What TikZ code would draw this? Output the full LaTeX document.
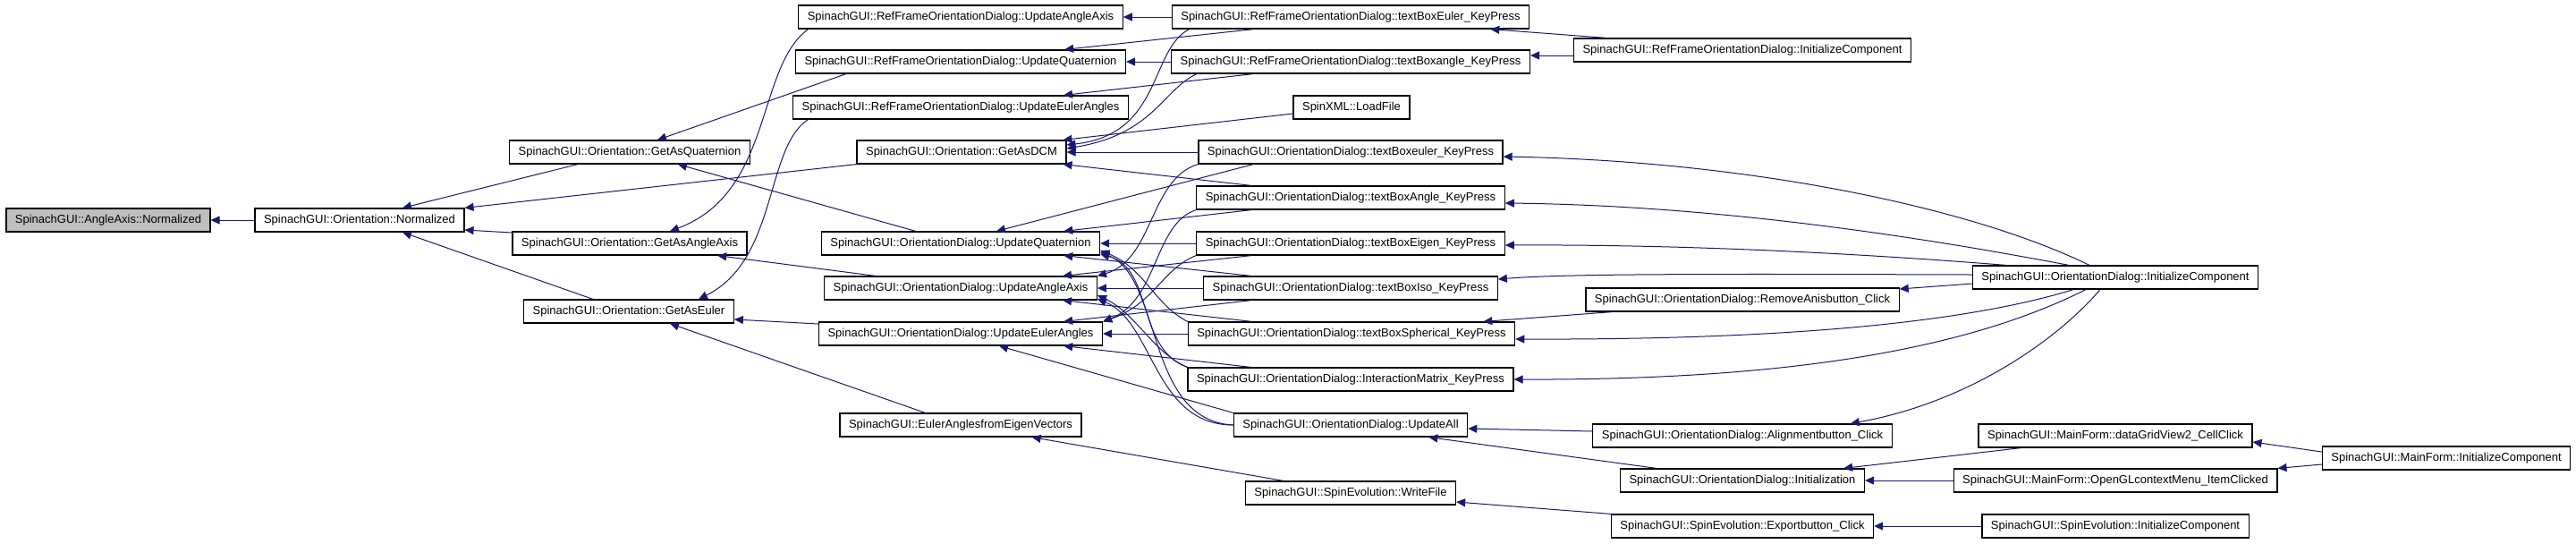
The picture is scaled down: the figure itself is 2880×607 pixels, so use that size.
\documentclass[tikz,border=0pt]{standalone}
\usepackage{fontspec}
\setmainfont{Liberation Sans}
\usetikzlibrary{arrows.meta}
\definecolor{callblue}{HTML}{191970}
\definecolor{rootgray}{HTML}{BFBFBF}

\begin{document}
\begin{tikzpicture}[x=0.5pt,y=-0.5pt,
  fn/.style={draw=black,line width=0.6pt,fill=white,inner xsep=5pt,inner ysep=0pt,minimum height=13pt,font=\fontsize{6.5pt}{7.8pt}\selectfont},
  root/.style={fn,fill=rootgray},
  call/.style={draw=callblue,line width=0.5pt,-{Triangle[length=5pt,width=4.5pt]}}]
\useasboundingbox (0,0) rectangle (2880,607);
\node[root] (aan) at (121,246) {SpinachGUI::AngleAxis::Normalized};
\node[fn] (onorm) at (402,246) {SpinachGUI::Orientation::Normalized};
\node[fn] (oquat) at (704,170) {SpinachGUI::Orientation::GetAsQuaternion};
\node[fn] (oaxis) at (704,272) {SpinachGUI::Orientation::GetAsAngleAxis};
\node[fn] (oeuler) at (703,348) {SpinachGUI::Orientation::GetAsEuler};
\node[fn] (rfaxis) at (1074,19) {SpinachGUI::RefFrameOrientationDialog::UpdateAngleAxis};
\node[fn] (rfquat) at (1074,69) {SpinachGUI::RefFrameOrientationDialog::UpdateQuaternion};
\node[fn] (rfeuler) at (1074,120) {SpinachGUI::RefFrameOrientationDialog::UpdateEulerAngles};
\node[fn] (odcm) at (1075,170) {SpinachGUI::Orientation::GetAsDCM};
\node[fn] (odquat) at (1074,272) {SpinachGUI::OrientationDialog::UpdateQuaternion};
\node[fn] (odaxis) at (1074,322) {SpinachGUI::OrientationDialog::UpdateAngleAxis};
\node[fn] (odeuler) at (1074,373) {SpinachGUI::OrientationDialog::UpdateEulerAngles};
\node[fn] (eigvec) at (1074,475) {SpinachGUI::EulerAnglesfromEigenVectors};
\node[fn] (rfkeuler) at (1510,19) {SpinachGUI::RefFrameOrientationDialog::textBoxEuler\_KeyPress};
\node[fn] (rfkangle) at (1510,69) {SpinachGUI::RefFrameOrientationDialog::textBoxangle\_KeyPress};
\node[fn] (xmlload) at (1511,120) {SpinXML::LoadFile};
\node[fn] (odkeuler) at (1510,170) {SpinachGUI::OrientationDialog::textBoxeuler\_KeyPress};
\node[fn] (odkangle) at (1510,221) {SpinachGUI::OrientationDialog::textBoxAngle\_KeyPress};
\node[fn] (odkeigen) at (1510,272) {SpinachGUI::OrientationDialog::textBoxEigen\_KeyPress};
\node[fn] (odkiso) at (1510,322) {SpinachGUI::OrientationDialog::textBoxIso\_KeyPress};
\node[fn] (odksph) at (1511,373) {SpinachGUI::OrientationDialog::textBoxSpherical\_KeyPress};
\node[fn] (odkint) at (1510,424) {SpinachGUI::OrientationDialog::InteractionMatrix\_KeyPress};
\node[fn] (odall) at (1510,475) {SpinachGUI::OrientationDialog::UpdateAll};
\node[fn] (sewrite) at (1510,551) {SpinachGUI::SpinEvolution::WriteFile};
\node[fn] (rfinit) at (1948,56) {SpinachGUI::RefFrameOrientationDialog::InitializeComponent};
\node[fn] (odremove) at (1948,335) {SpinachGUI::OrientationDialog::RemoveAnisbutton\_Click};
\node[fn] (odalign) at (1948,487) {SpinachGUI::OrientationDialog::Alignmentbutton\_Click};
\node[fn] (odinitn) at (1948,537) {SpinachGUI::OrientationDialog::Initialization};
\node[fn] (seexport) at (1948,588) {SpinachGUI::SpinEvolution::Exportbutton\_Click};
\node[fn] (odinit) at (2365,310) {SpinachGUI::OrientationDialog::InitializeComponent};
\node[fn] (mfgrid) at (2365,487) {SpinachGUI::MainForm::dataGridView2\_CellClick};
\node[fn] (mfgl) at (2365,537) {SpinachGUI::MainForm::OpenGLcontextMenu\_ItemClicked};
\node[fn] (seinit) at (2365,588) {SpinachGUI::SpinEvolution::InitializeComponent};
\node[fn] (mfinit) at (2735,512) {SpinachGUI::MainForm::InitializeComponent};
\foreach \a/\b in {onorm/aan,rfkeuler/rfaxis,rfkangle/rfquat,odkeuler/odcm,odkeigen/odquat,odkiso/odaxis,odksph/odeuler,mfgl/odinitn,seinit/seexport}{\draw[call] (\a) -- (\b);}
\draw[call] ([xshift=-29pt]oquat.south) -- ([xshift=24pt]onorm.north);
\draw[call] (odcm.south west) -- (onorm.north east);
\draw[call] ([yshift=6pt]oaxis.west) -- ([yshift=-5.5pt]onorm.east);
\draw[call] ([xshift=-20pt]oeuler.north) -- ([xshift=24pt]onorm.south);
\draw[call] ([xshift=28.5pt]rfquat.south west) -- ([xshift=15.5pt]oquat.north);
\draw[call] ([xshift=5.75pt]rfaxis.south west) .. controls (845,75) and (865,215) .. ([xshift=22.5pt]oaxis.north);
\draw[call] ([xshift=8.75pt]rfeuler.south west) .. controls (855,165) and (870,290) .. ([xshift=39pt]oeuler.north);
\draw[call] ([xshift=53pt]odquat.north west) -- ([xshift=-40.5pt]oquat.south east);
\draw[call] ([xshift=29pt]odaxis.north west) -- ([xshift=-16.75pt]oaxis.south east);
\draw[call] ([yshift=5.5pt]odeuler.west) -- ([yshift=-4.5pt]oeuler.east);
\draw[call] ([xshift=48pt]eigvec.north west) -- ([xshift=23pt]oeuler.south);
\draw[call] ([xshift=46pt]rfkeuler.south west) -- ([xshift=-34.5pt]rfquat.north east);
\draw[call] ([xshift=10pt]rfkeuler.south west) .. controls (1285,55) and (1300,150) .. ([yshift=4pt]odcm.east);
\draw[call] ([xshift=46pt]rfkangle.south west) -- ([xshift=-36.5pt]rfeuler.north east);
\draw[call] ([xshift=14.5pt]rfkangle.south west) .. controls (1300,100) and (1290,150) .. ([yshift=2pt]odcm.east);
\draw[call] ([yshift=-3.5pt]xmlload.west) -- ([xshift=-2pt]odcm.north east);
\draw[call] ([xshift=31pt]odkeuler.south west) -- ([xshift=20pt]odquat.north);
\draw[call] (odkeuler.south west) .. controls (1285,200) and (1290,290) .. (odaxis.north east);
\draw[call] ([xshift=31pt]odkangle.north west) -- ([xshift=-2pt]odcm.south east);
\draw[call] ([xshift=31pt]odkangle.south west) -- ([xshift=-20.5pt]odquat.north east);
\draw[call] (odkangle.south west) .. controls (1290,250) and (1295,335) .. (odeuler.north east);
\draw[call] ([xshift=31pt]odkeigen.south west) -- ([xshift=-19.5pt]odaxis.north east);
\draw[call] (odkeigen.south west) .. controls (1300,300) and (1290,340) .. (odeuler.north east);
\draw[call] ([xshift=27pt]odkiso.north west) -- ([xshift=-20.5pt]odquat.south east);
\draw[call] ([xshift=27pt]odkiso.south west) -- ([xshift=-22pt]odeuler.north east);
\draw[call] (odksph.north west) .. controls (1290,340) and (1280,300) .. ([yshift=-4pt]odquat.east);
\draw[call] ([xshift=36pt]odksph.north west) -- ([xshift=-19.5pt]odaxis.south east);
\draw[call] (odkint.north west) .. controls (1270,390) and (1290,300) .. ([yshift=-6pt]odquat.east);
\draw[call] (odkint.north west) .. controls (1290,395) and (1270,350) .. ([yshift=-4pt]odaxis.east);
\draw[call] ([xshift=35.5pt]odkint.north west) -- ([xshift=-22pt]odeuler.south east);
\draw[call] (odall.west) .. controls (1280,470) and (1300,310) .. ([yshift=-5pt]odquat.east);
\draw[call] (odall.west) .. controls (1290,475) and (1290,360) .. ([yshift=-6pt]odaxis.east);
\draw[call] (odall.north west) -- ([xshift=21.5pt]odeuler.south);
\draw[call] ([xshift=21.5pt]sewrite.north west) -- ([xshift=-28pt]eigvec.south east);
\draw[call] ([xshift=18.5pt]rfinit.north west) -- ([xshift=-22pt]rfkeuler.south east);
\draw[call] ([yshift=-3pt]rfinit.west) -- ([yshift=3.5pt]rfkangle.east);
\draw[call] ([xshift=15pt]odremove.south west) -- ([xshift=-18pt]odksph.north east);
\draw[call] ([yshift=2.5pt]odalign.west) -- ([yshift=-2pt]odall.east);
\draw[call] ([xshift=20.5pt]odinitn.north west) -- ([xshift=-22pt]odall.south east);
\draw[call] (seexport.north west) -- ([yshift=-5pt]sewrite.east);
\draw[call] ([xshift=-14.5pt]odinit.north) .. controls (2200,230) and (1950,180) .. ([yshift=-2.5pt]odkeuler.east);
\draw[call] ([xshift=-26pt]odinit.north) .. controls (2200,275) and (1950,230) .. ([yshift=-3pt]odkangle.east);
\draw[call] ([xshift=19pt]odinit.north west) .. controls (2100,285) and (1900,273) .. ([yshift=-1pt]odkeigen.east);
\draw[call] ([yshift=1.5pt]odinit.west) .. controls (1900,306) and (1750,306) .. ([yshift=5pt]odkiso.east);
\draw[call] ([yshift=-3.5pt]odinit.west) -- ([yshift=6pt]odremove.east);
\draw[call] ([xshift=-23.5pt]odinit.south) .. controls (2200,360) and (2000,380) .. ([yshift=-3pt]odksph.east);
\draw[call] ([xshift=-16.5pt]odinit.south) .. controls (2200,390) and (2000,425) .. (odkint.east);
\draw[call] ([xshift=-8.5pt]odinit.south) .. controls (2300,380) and (2200,450) .. ([xshift=-23.5pt]odalign.north east);
\draw[call] ([xshift=24pt]mfgrid.south west) -- ([xshift=-12pt]odinitn.north east);
\draw[call] ([yshift=3.5pt]mfinit.west) -- ([yshift=-3.5pt]mfgrid.east);
\draw[call] ([yshift=-3.5pt]mfinit.west) -- (mfgl.north east);
\end{tikzpicture}
\end{document}
